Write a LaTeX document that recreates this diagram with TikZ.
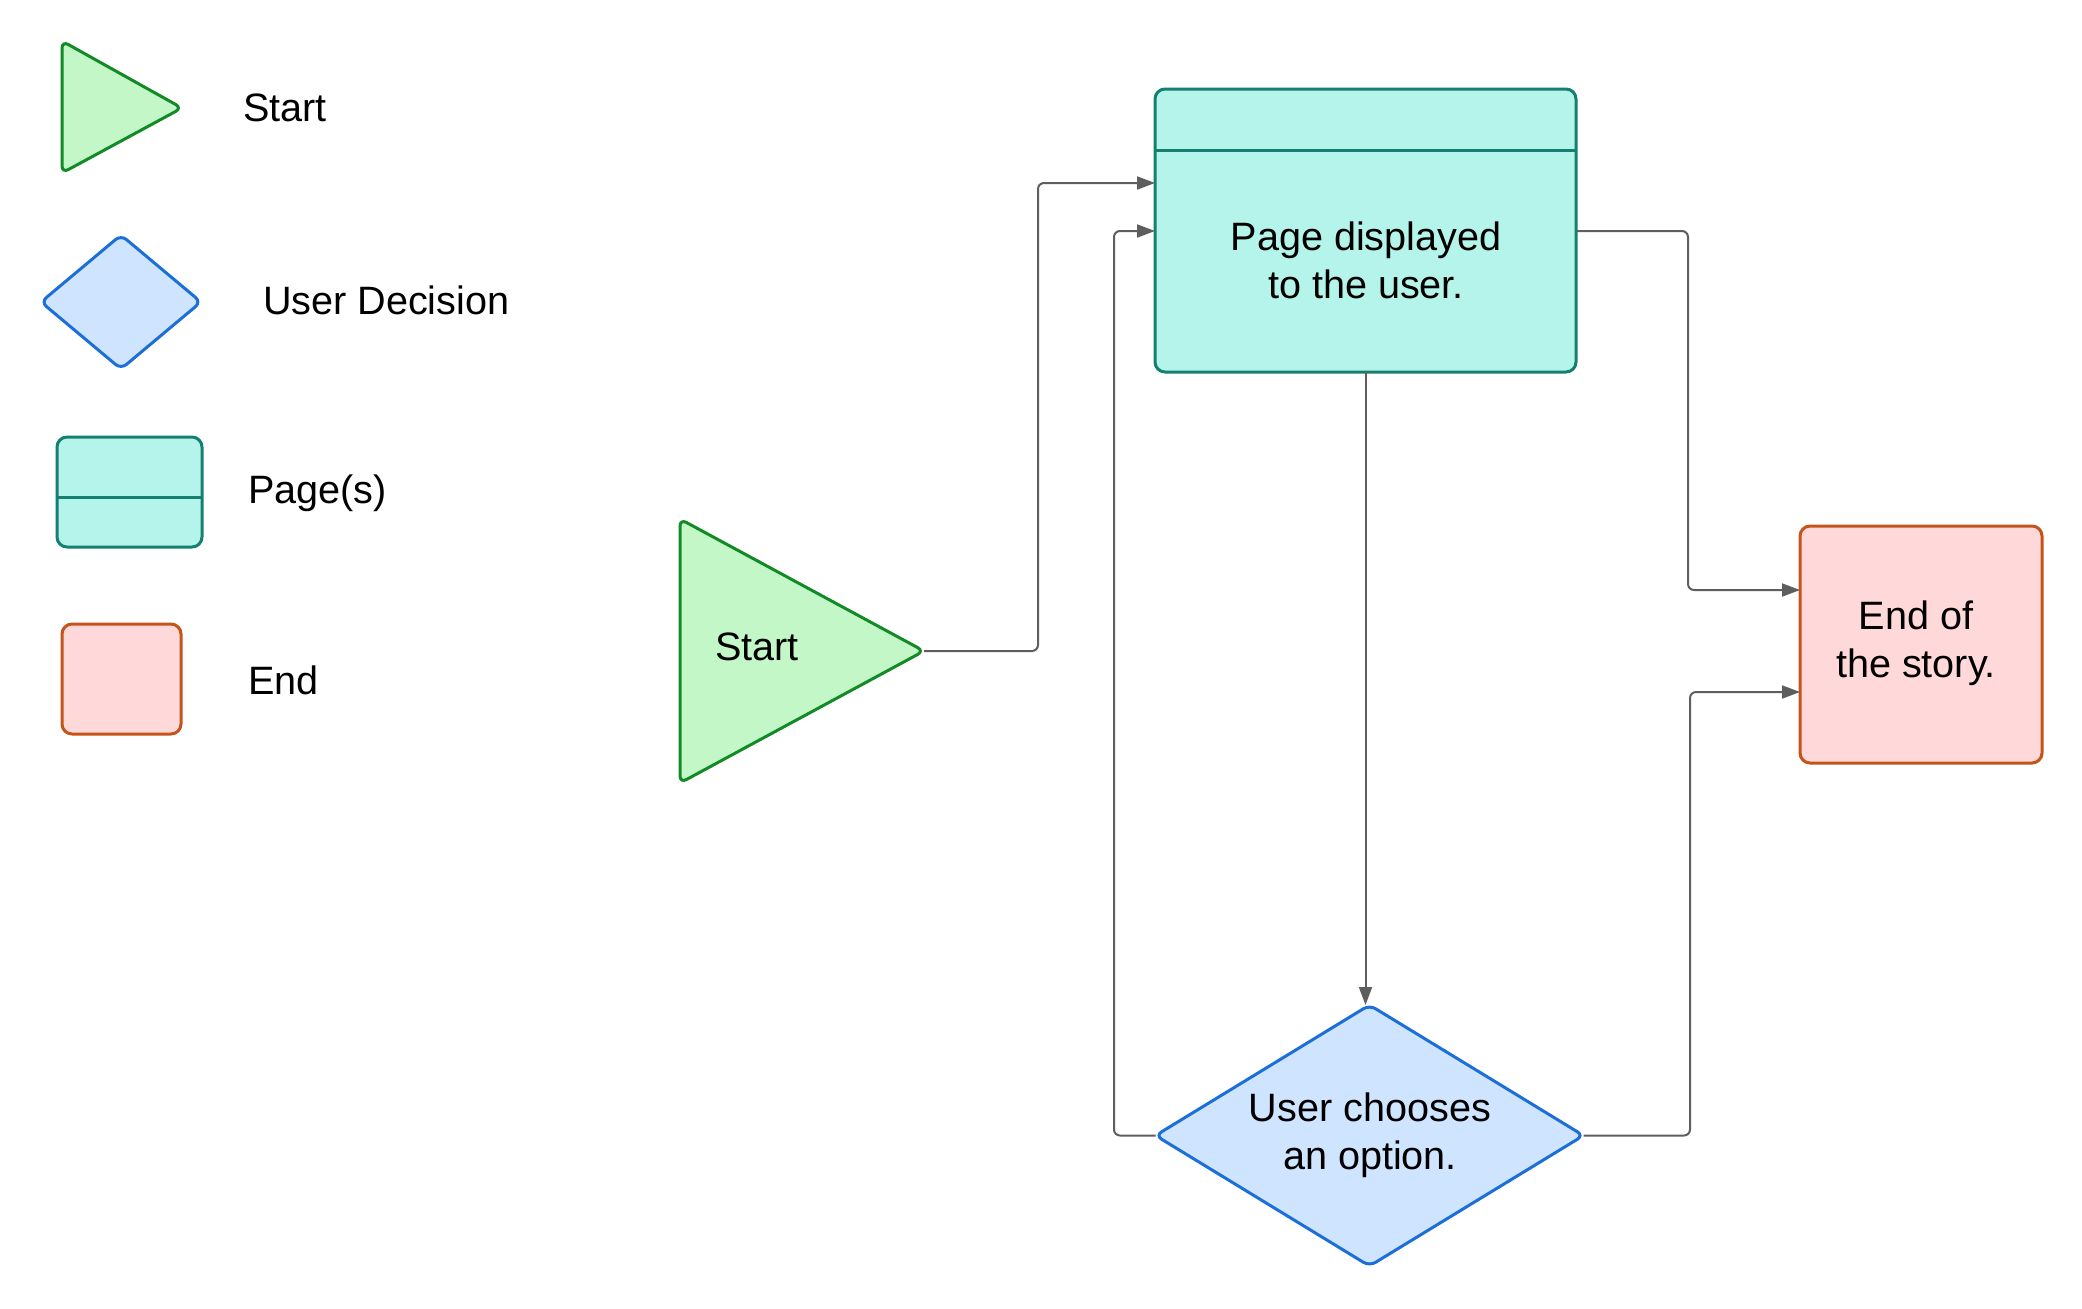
\documentclass[tikz,border=0pt]{standalone}
\usepackage{fontspec}
\setmainfont{Liberation Sans}
\usetikzlibrary{shapes.geometric,arrows.meta,calc}
\definecolor{startfill}{HTML}{C3F7C8}
\definecolor{startdraw}{HTML}{128A26}
\definecolor{decfill}{HTML}{CFE4FF}
\definecolor{decdraw}{HTML}{1C6FD8}
\definecolor{pagefill}{HTML}{B5F4EA}
\definecolor{pagedraw}{HTML}{15806F}
\definecolor{endfill}{HTML}{FFD9DA}
\definecolor{enddraw}{HTML}{C4541A}
\definecolor{conncol}{HTML}{5E5E5E}
\begin{document}
\begin{tikzpicture}[x=0.5pt,y=-0.5pt,
  every node/.style={font=\fontsize{19.8pt}{24pt}\selectfont, text=black, outer sep=0pt},
  shp/.style={line width=1.5pt, rounded corners=3.5pt, inner sep=0pt},
  startshape/.style={shp, draw=startdraw, fill=startfill},
  decshape/.style={shp, diamond, draw=decdraw, fill=decfill},
  pageshape/.style={shp, rectangle, draw=pagedraw, fill=pagefill, rounded corners=5pt},
  endshape/.style={shp, rectangle, draw=enddraw, fill=endfill, rounded corners=5pt},
  divider/.style={draw=pagedraw, line width=1.5pt},
  legtext/.style={anchor=west, inner sep=0pt},
  conn/.style={draw=conncol, line width=1pt, rounded corners=3pt, -{Triangle[length=9pt,width=6.5pt]}}
]
\useasboundingbox (0,0) rectangle (2082,1308);

% ---------- legend ----------
\draw[startshape] (62,41) -- (182,108) -- (62,173) -- cycle;
\node[legtext] (lstarttxt) at (243,108) {Start};

\node[decshape, minimum width=80pt, minimum height=67pt] (ldec) at (121,302) {};
\node[legtext] (ldectxt) at (263,300) {User Decision};

\node[pageshape, minimum width=72.5pt, minimum height=55pt] (lpage) at (129.5,492) {};
\coordinate (lpdiv) at (0,497);
\draw[divider] (lpage.west |- lpdiv) -- (lpage.east |- lpdiv);
\node[legtext] (lpagetxt) at (248,493) {Page(s)};

\node[endshape, minimum width=59.5pt, minimum height=55pt] (lend) at (121.5,679) {};
\node[legtext] (lendtxt) at (248,680) {End};

% ---------- main flow ----------
\draw[startshape] (680,519) -- (924,651) -- (680,783) -- cycle;
\coordinate (starttip) at (924,651);
\node (start) at (757,647) {Start};

\node[pageshape, minimum width=210.5pt, minimum height=141.5pt] (page) at (1365.5,230.5) {};
\coordinate (pdiv) at (0,150);
\draw[divider] (page.west |- pdiv) -- (page.east |- pdiv);
\node[align=center] (pagetxt) at (1366,260) {Page displayed\\to the user.};

\node[decshape, minimum width=214pt, minimum height=130.5pt] (choice) at (1369.5,1135.5) {};
\node[align=center] (choicetxt) at (1370,1135) {User chooses\\an option.};

\node[endshape, minimum width=121pt, minimum height=118.5pt] (end) at (1921,644.5) {};
\node[align=center] (endtxt) at (1916,643) {End of\\the story.};

% ---------- connectors ----------
\coordinate (b1) at (1038,183);
\coordinate (b2) at (1114,231);
\coordinate (b3) at (1688,590);
\coordinate (b4) at (1690,692);

\draw[conn] (starttip) -| (b1) -- (page.west |- b1);
\draw[conn] (choice.west) -| (b2) -- (page.west |- b2);
\draw[conn] (page.east |- b2) -| (b3) -- (end.west |- b3);
\draw[conn] (choice.east) -| (b4) -- (end.west |- b4);
\draw[conn] (page.south) -- (page.south |- choice.north);
\end{tikzpicture}
\end{document}
